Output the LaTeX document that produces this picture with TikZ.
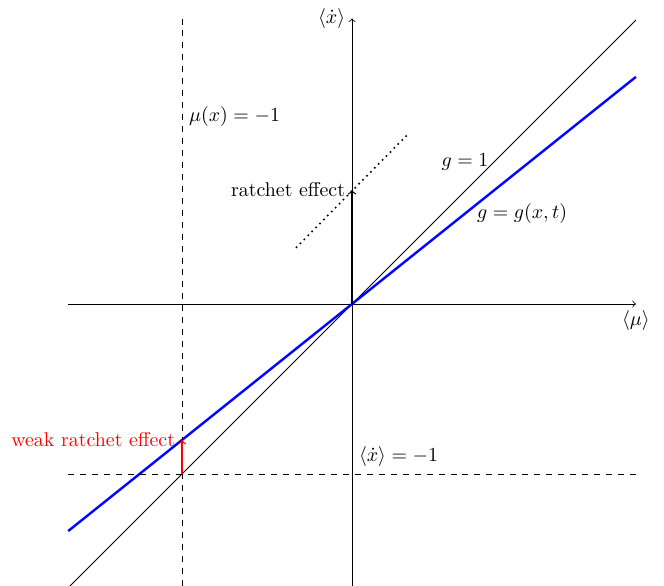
\documentclass[tikz,border=0pt]{standalone}
\usepackage{amsmath}
\usepackage{tikz}
\usetikzlibrary{positioning, arrows}

\begin{document}
\begin{tikzpicture}[x=3cm, y=3cm, auto,
   axis/.style={->},
   guide/.style={dashed},
   ratchetarrow/.style={->, semithick}]
   \useasboundingbox (-2.071,-1.659) rectangle (1.835,1.788);
   % axes
   \coordinate (x_l) at (-1.67,0);
   \coordinate (x_r) at (1.67,0);
   \coordinate (y_b) at (0,-1.66);
   \coordinate (y_t) at (0,1.68);
   \coordinate (o) at (0,0);
   \draw[axis] (x_l) -- (x_r) node[anchor=north] (mu_lbl) {$\langle\mu\rangle$};
   \draw[axis] (y_b) -- (y_t) node[anchor=east] (xd_lbl) {$\langle\dot{x}\rangle$};
   % lines g=1 and g=g(x,t)
   \coordinate (g1_a) at (-1.66,-1.66);
   \coordinate (g1_b) at (1.67,1.67);
   \coordinate (gx_a) at (-1.67,-1.336);
   \coordinate (gx_b) at (1.67,1.336);
   \draw (g1_a) -- (g1_b);
   \draw[blue, very thick] (gx_a) -- (gx_b);
   % guides at -1
   \coordinate (v_b) at (-1,-1.66);
   \coordinate (v_t) at (-1,1.68);
   \coordinate (h_l) at (-1.67,-1);
   \coordinate (h_r) at (1.67,-1);
   \draw[guide] (v_b) -- (v_t);
   \draw[guide] (h_l) -- (h_r);
   % dotted shifted line
   \coordinate (d_a) at (-0.33,0.33);
   \coordinate (d_b) at (0.33,1.0);
   \draw[dotted, thick] (d_a) -- (d_b);
   % ratchet arrows
   \coordinate (w_0) at (-1,-1);
   \coordinate (w_1) at (-1,-0.8);
   \coordinate (r_1) at (0,0.67);
   \draw[ratchetarrow] (o) -- (r_1);
   \draw[ratchetarrow, red] (w_0) -- (w_1);
   \node[anchor=east] (r_lbl) at (r_1) {ratchet effect};
   \node[anchor=east, red] (w_lbl) at (w_1) {weak ratchet effect};
   % labels
   \node (g1_lbl) at (0.665,0.835) {$g = 1$};
   \node (gx_lbl) at (1.0,0.53) {$g = g(x,t)$};
   \node[anchor=west] (mux_lbl) at (-1,1.1) {$\mu(x) = -1$};
   \node[anchor=south west] (xm_lbl) at (0,-1) {$\langle\dot{x}\rangle = -1$};
\end{tikzpicture}
\end{document}
